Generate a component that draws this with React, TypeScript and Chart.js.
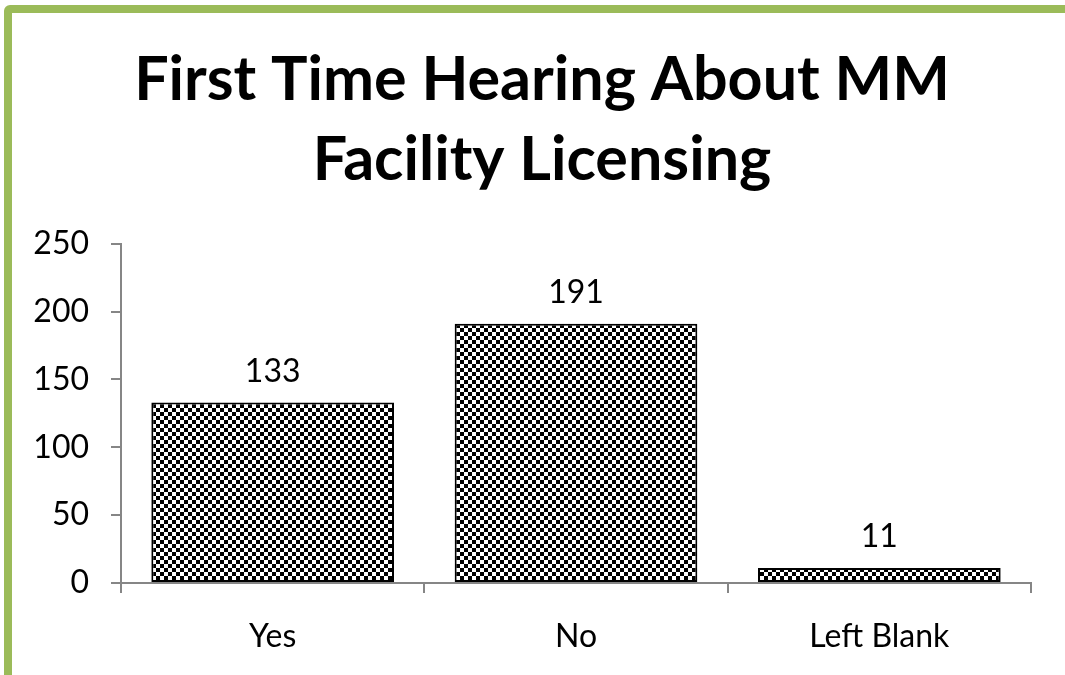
import React, { useEffect, useRef } from "react";
import { Chart, registerables } from "chart.js";

Chart.register(...registerables);

const categories = ["Yes", "No", "Left Blank"];
const values = [133, 191, 11];
const titleLines = ["First Time Hearing About MM", "Facility Licensing"];
const yMax = 250;
const yStep = 50;

function makePattern(): CanvasPattern | string {
  const c = document.createElement("canvas");
  c.width = 8;
  c.height = 8;
  const g = c.getContext("2d");
  if (!g) return "#000";
  g.fillStyle = "#000";
  g.fillRect(0, 0, 8, 8);
  g.fillStyle = "#fff";
  g.fillRect(0, 0, 4, 4);
  g.fillRect(4, 4, 4, 4);
  const p = g.createPattern(c, "repeat");
  return p || "#000";
}

const dataLabelPlugin = {
  id: "dataLabels",
  afterDatasetsDraw(chart: any) {
    const ctx = chart.ctx;
    const meta = chart.getDatasetMeta(0);
    ctx.save();
    ctx.font = "32px Lato";
    ctx.fillStyle = "#000";
    ctx.textAlign = "center";
    ctx.textBaseline = "alphabetic";
    meta.data.forEach((bar: any, i: number) => {
      ctx.fillText(String(values[i]), bar.x, bar.y - 21);
    });
    ctx.restore();
  },
};

export default function App() {
  const ref = useRef<HTMLCanvasElement | null>(null);
  useEffect(() => {
    document.body.style.margin = "0";
    if (!ref.current) return;
    const chart = new Chart(ref.current, {
      type: "bar",
      data: {
        labels: categories,
        datasets: [
          {
            data: values,
            backgroundColor: makePattern() as any,
            borderColor: "#000",
            borderWidth: 2,
            borderSkipped: false,
            barPercentage: 0.8,
            categoryPercentage: 1,
          },
        ],
      },
      options: {
        responsive: false,
        animation: false,
        layout: { padding: { left: 19, right: 0, top: 40, bottom: 0 } },
        plugins: {
          legend: { display: false },
          tooltip: { enabled: false },
          title: {
            display: true,
            text: titleLines,
            color: "#000",
            font: { family: "Lato", size: 61, weight: "bold", lineHeight: 1.31 },
            padding: { top: 0, bottom: 44 },
          },
        },
        scales: {
          x: {
            grid: {
              display: true,
              drawOnChartArea: false,
              drawTicks: true,
              tickLength: 10,
              color: "#868686",
              lineWidth: 2,
              offset: true,
            },
            border: { display: true, color: "#868686", width: 2 },
            ticks: { color: "#000", font: { family: "Lato", size: 32 }, padding: 24 },
            afterFit(scale: any) {
              scale.height = 92;
            },
          },
          y: {
            min: 0,
            max: yMax,
            ticks: { stepSize: yStep, color: "#000", font: { family: "Lato", size: 32 }, padding: 22 },
            grid: {
              display: true,
              drawOnChartArea: false,
              drawTicks: true,
              tickLength: 10,
              color: "#868686",
              lineWidth: 2,
            },
            border: { display: true, color: "#868686", width: 2 },
            afterFit(scale: any) {
              scale.width = 102;
            },
          },
          ySpacer: {
            type: "linear",
            position: "right",
            display: true,
            grid: { display: false },
            border: { display: false },
            ticks: { display: false },
            afterFit(scale: any) {
              scale.width = 34;
            },
          },
        },
      },
      plugins: [dataLabelPlugin],
    });
    return () => chart.destroy();
  }, []);
  return (
    <div style={{ position: "relative", width: 1065, height: 675, overflow: "hidden", background: "#fff" }}>
      <div
        style={{
          position: "absolute",
          left: 4,
          top: 5,
          width: 1080,
          height: 680,
          border: "8px solid #9BBB59",
          borderRadius: 6,
          boxSizing: "border-box",
        }}
      />
      <canvas ref={ref} width={1065} height={675} style={{ position: "absolute", left: 0, top: 0 }} />
    </div>
  );
}
